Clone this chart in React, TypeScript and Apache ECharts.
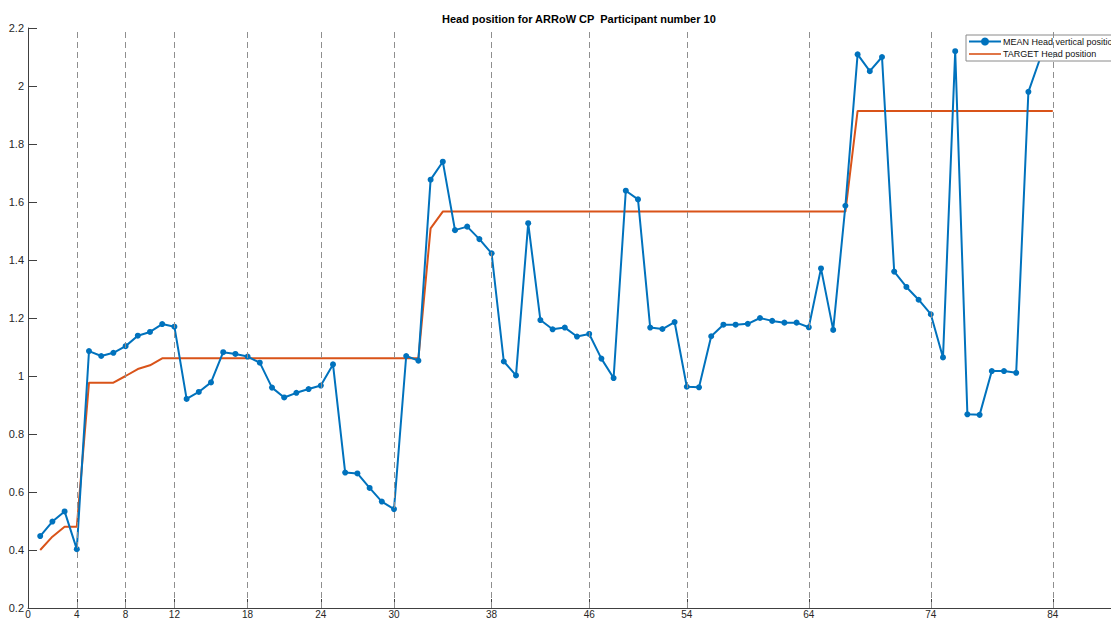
import React, { useEffect, useRef } from "react";
import * as echarts from "echarts";

const TITLE = "Head position for ARRoW CP  Participant number 10";
const MEAN_NAME = "MEAN Head vertical position";
const TARGET_NAME = "TARGET Head position";

const meanX = [
  1, 2, 3, 4, 5, 6, 7, 8, 9, 10, 11, 12, 13, 14, 15, 16, 17, 18, 19, 20,
  21, 22, 23, 24, 25, 26, 27, 28, 29, 30, 31, 32, 33, 34, 35, 36, 37, 38, 39, 40,
  41, 42, 43, 44, 45, 46, 47, 48, 49, 50, 51, 52, 53, 54, 55, 56, 57, 58, 59, 60,
  61, 62, 63, 64, 65, 66, 67, 68, 69, 70, 71, 72, 73, 74, 75, 76, 77, 78, 79, 80,
  81, 82, 83,
];
const meanY = [
  0.448, 0.498, 0.533, 0.403, 1.086, 1.069, 1.08, 1.103, 1.139, 1.152,
  1.179, 1.17, 0.921, 0.945, 0.978, 1.082, 1.076, 1.067, 1.046, 0.96,
  0.926, 0.942, 0.955, 0.967, 1.04, 0.667, 0.664, 0.614, 0.567, 0.541,
  1.069, 1.053, 1.677, 1.739, 1.503, 1.515, 1.472, 1.423, 1.05, 1.002,
  1.527, 1.193, 1.161, 1.167, 1.136, 1.145, 1.06, 0.993, 1.639, 1.609,
  1.167, 1.162, 1.186, 0.963, 0.961, 1.137, 1.177, 1.177, 1.18, 1.2,
  1.19, 1.184, 1.184, 1.168, 1.371, 1.159, 1.587, 2.109, 2.051, 2.1,
  1.36, 1.307, 1.263, 1.213, 1.064, 2.12, 0.868, 0.866, 1.017, 1.017,
  1.011, 1.98, 2.1,
];

const targetX = [
  1, 2, 3, 4, 5, 6, 7, 8, 9, 10, 11, 12, 13, 14, 15, 16, 17, 18, 19, 20,
  21, 22, 23, 24, 25, 26, 27, 28, 29, 30, 31, 32, 33, 34, 35, 36, 37, 38, 39, 40,
  41, 42, 43, 44, 45, 46, 47, 48, 49, 50, 51, 52, 53, 54, 55, 56, 57, 58, 59, 60,
  61, 62, 63, 64, 65, 66, 67, 68, 69, 70, 71, 72, 73, 74, 75, 76, 77, 78, 79, 80,
  81, 82, 83, 84,
];
const targetY = [
  0.4, 0.446, 0.48, 0.48, 0.977, 0.977, 0.977, 1.0, 1.024, 1.037,
  1.061, 1.061, 1.061, 1.061, 1.061, 1.061, 1.061, 1.061, 1.061, 1.061,
  1.061, 1.061, 1.061, 1.061, 1.061, 1.061, 1.061, 1.061, 1.061, 1.061,
  1.061, 1.061, 1.509, 1.567, 1.567, 1.567, 1.567, 1.567, 1.567, 1.567,
  1.567, 1.567, 1.567, 1.567, 1.567, 1.567, 1.567, 1.567, 1.567, 1.567,
  1.567, 1.567, 1.567, 1.567, 1.567, 1.567, 1.567, 1.567, 1.567, 1.567,
  1.567, 1.567, 1.567, 1.567, 1.567, 1.567, 1.567, 1.914, 1.914, 1.914,
  1.914, 1.914, 1.914, 1.914, 1.914, 1.914, 1.914, 1.914, 1.914, 1.914,
  1.914, 1.914, 1.914, 1.914,
];

const xTickLabels = [0, 4, 8, 12, 18, 24, 30, 38, 46, 54, 64, 74, 84];
const dashedLines = [4, 8, 12, 18, 24, 30, 38, 46, 54, 64, 74, 84];

const FONT = "'Liberation Sans', Arial, Helvetica, sans-serif";
const LINE_ICON = "path://M0,0 L0,0 M0,4.2 L32,4.2 L32,5.8 L0,5.8 Z M32,10 L32,10";

export default function App() {
  const ref = useRef<HTMLDivElement>(null);

  useEffect(() => {
    if (!ref.current) return;
    const chart = echarts.init(ref.current, undefined, { renderer: "svg" });
    const axisColor = "#404040";
    chart.setOption({
      animation: false,
      backgroundColor: "#fff",
      textStyle: { fontFamily: FONT },
      graphic: [
        {
          type: "text",
          left: 577 - 135,
          top: 13,
          style: {
            text: TITLE,
            font: `bold 11px ${FONT}`,
            fill: "#000",
          },
        },
      ],
      grid: {
        left: 28,
        right: 14,
        top: 28,
        bottom: 13,
        containLabel: false,
        outerBoundsMode: "none",
      },
      legend: {
        orient: "vertical",
        left: 966,
        top: 35,
        itemWidth: 32,
        itemHeight: 10,
        itemGap: 3,
        padding: [2, 6, 2, 2],
        borderColor: "#8a8a8a",
        borderWidth: 1,
        borderRadius: 0,
        backgroundColor: "#fff",
        textStyle: { fontSize: 9, color: "#111", fontFamily: FONT, padding: [0, 0, 0, -3] },
        data: [{ name: MEAN_NAME }, { name: TARGET_NAME, icon: LINE_ICON }],
      },
      xAxis: {
        type: "value",
        min: 0,
        max: 90,
        axisLine: { show: true, lineStyle: { color: axisColor, width: 1 } },
        axisTick: {
          show: true,
          inside: true,
          length: 9,
          customValues: xTickLabels,
          lineStyle: { color: axisColor },
        },
        axisLabel: {
          customValues: xTickLabels,
          fontSize: 10,
          color: "#262626",
          margin: 1,
          fontFamily: FONT,
        },
        splitLine: { show: false },
      },
      yAxis: {
        type: "value",
        min: 0.2,
        max: 2.2,
        interval: 0.2,
        axisLine: { show: true, lineStyle: { color: axisColor, width: 1 } },
        axisTick: { show: true, inside: true, length: 9, lineStyle: { color: axisColor } },
        axisLabel: {
          fontSize: 11,
          color: "#262626",
          margin: 4,
          fontFamily: FONT,
          formatter: (v: number) => String(Math.round(v * 10) / 10),
        },
        splitLine: { show: false },
      },
      series: [
        {
          name: "vlines",
          type: "line",
          data: [],
          z: 1,
          silent: true,
          markLine: {
            silent: true,
            symbol: ["none", "none"],
            label: { show: false },
            lineStyle: { color: "#8f8f8f", type: [6, 4], width: 1 },
            emphasis: { disabled: true },
            data: dashedLines.map((v) => ({ xAxis: v })),
          },
        },
        {
          name: MEAN_NAME,
          type: "line",
          z: 3,
          data: meanX.map((x, i) => [x, meanY[i]]),
          symbol: "circle",
          symbolSize: 6,
          color: "#0072BD",
          lineStyle: { color: "#0072BD", width: 2 },
          itemStyle: { color: "#0072BD" },
        },
        {
          name: TARGET_NAME,
          type: "line",
          z: 2,
          data: targetX.map((x, i) => [x, targetY[i]]),
          showSymbol: false,
          symbol: "none",
          color: "#D95319",
          lineStyle: { color: "#D95319", width: 2 },
          itemStyle: { color: "#D95319" },
        },
      ],
    });
    return () => chart.dispose();
  }, []);

  return (
    <div
      style={{
        position: "fixed",
        left: 0,
        top: 0,
        width: 1111,
        height: 621,
        overflow: "hidden",
        background: "#fff",
      }}
    >
      <div ref={ref} style={{ width: 1140, height: 621 }} />
    </div>
  );
}
